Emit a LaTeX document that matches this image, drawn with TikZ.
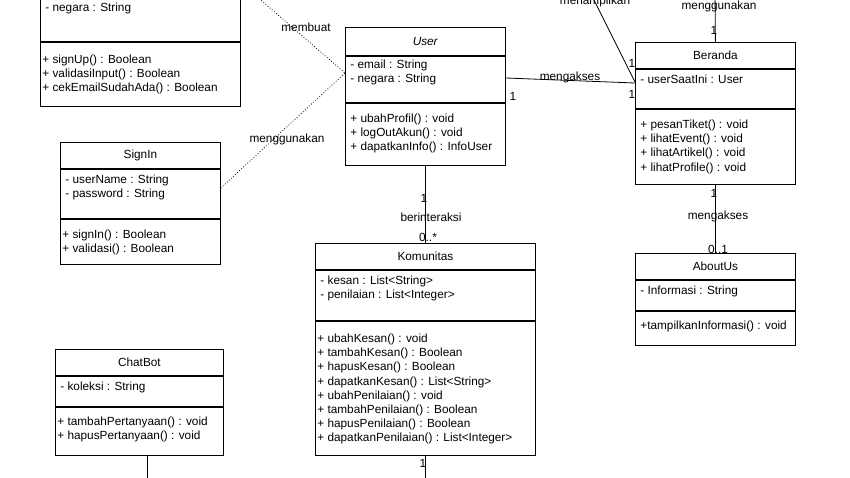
\documentclass[tikz,border=0pt]{standalone}
\usepackage{fontspec}
\setmainfont{Liberation Sans}
\usetikzlibrary{positioning}
\tikzset{
  comp/.style={draw, rectangle, inner sep=0pt, anchor=north west},
  sub/.style={draw, rectangle, inner sep=0pt, anchor=north},
  member/.style={anchor=north west, align=left, inner sep=2pt, font=\fontsize{11.8}{14.2}\selectfont},
  lbl/.style={font=\fontsize{11.8}{13}\selectfont, inner sep=1pt},
  dep/.style={dotted, thick},
}
\begin{document}
\begin{tikzpicture}[x=1pt, y=-1pt, line width=0.8pt, every node/.style={font=\fontsize{11.8}{13}\selectfont}]
        \useasboundingbox (0,0) rectangle (850,478);
        \clip (0,0) rectangle (850,478);
        % Classes
        \node[comp, minimum width=200pt, minimum height=26pt] (signup) at (40,-52) {SignUp};
        \node[sub, minimum width=200pt, minimum height=66pt] (signup attr) at (signup.south) {};
        \node[sub, minimum width=200pt, minimum height=64pt] (signup meth) at (signup attr.south) {};
        \node[member] (signup a) at ([xshift=3,yshift=-12]signup attr.north west) {- email : String\\- negara : String};
        \node[member] (signup m) at ([yshift=-11]signup meth.north west) {+ signUp() : Boolean\\+ validasiInput() : Boolean\\+ cekEmailSudahAda() : Boolean};

        \node[comp, minimum width=160pt, minimum height=28pt] (user) at (345,27) {\textit{User}};
        \node[sub, minimum width=160pt, minimum height=46pt] (user attr) at (user.south) {};
        \node[sub, minimum width=160pt, minimum height=62pt] (user meth) at (user attr.south) {};
        \node[member] (user a) at ([xshift=3,yshift=-2]user attr.north west) {- email : String\\- negara : String};
        \node[member] (user m) at ([xshift=3,yshift=-9]user meth.north west) {+ ubahProfil() : void\\+ logOutAkun() : void\\+ dapatkanInfo() : InfoUser};

        \node[comp, minimum width=160pt, minimum height=26pt] (beranda) at (635,42) {Beranda};
        \node[sub, minimum width=160pt, minimum height=39pt] (beranda attr) at (beranda.south) {};
        \node[sub, minimum width=160pt, minimum height=75pt] (beranda meth) at (beranda attr.south) {};
        \node[member] (beranda a) at ([xshift=3,yshift=-4]beranda attr.north west) {- userSaatIni : User};
        \node[member] (beranda m) at ([xshift=3,yshift=-9]beranda meth.north west) {+ pesanTiket() : void\\+ lihatEvent() : void\\+ lihatArtikel() : void\\+ lihatProfile() : void};

        \node[comp, minimum width=160pt, minimum height=26pt] (signin) at (60,142) {SignIn};
        \node[sub, minimum width=160pt, minimum height=49pt] (signin attr) at (signin.south) {};
        \node[sub, minimum width=160pt, minimum height=45pt] (signin meth) at (signin attr.south) {};
        \node[member] (signin a) at ([xshift=3,yshift=-4]signin attr.north west) {- userName : String\\- password : String};
        \node[member] (signin m) at ([yshift=-9]signin meth.north west) {+ signIn() : Boolean\\+ validasi() : Boolean};

        \node[comp, minimum width=220pt, minimum height=26pt] (komunitas) at (315,243) {Komunitas};
        \node[sub, minimum width=220pt, minimum height=50pt] (komunitas attr) at (komunitas.south) {};
        \node[sub, minimum width=220pt, minimum height=134pt] (komunitas meth) at (komunitas attr.south) {};
        \node[member] (komunitas a) at ([xshift=3,yshift=-4]komunitas attr.north west) {- kesan : List<String>\\- penilaian : List<Integer>};
        \node[member] (komunitas m) at ([yshift=-11]komunitas meth.north west) {+ ubahKesan() : void\\+ tambahKesan() : Boolean\\+ hapusKesan() : Boolean\\+ dapatkanKesan() : List<String>\\+ ubahPenilaian() : void\\+ tambahPenilaian() : Boolean\\+ hapusPenilaian() : Boolean\\+ dapatkanPenilaian() : List<Integer>};

        \node[comp, minimum width=160pt, minimum height=26pt] (aboutus) at (635,253) {AboutUs};
        \node[sub, minimum width=160pt, minimum height=30pt] (aboutus attr) at (aboutus.south) {};
        \node[sub, minimum width=160pt, minimum height=34pt] (aboutus meth) at (aboutus attr.south) {};
        \node[member] (aboutus a) at ([xshift=3,yshift=-4]aboutus attr.north west) {- Informasi : String};
        \node[member] (aboutus m) at ([xshift=3,yshift=-8]aboutus meth.north west) {+tampilkanInformasi() : void};

        \node[comp, minimum width=168pt, minimum height=26pt] (chatbot) at (55,349) {ChatBot};
        \node[sub, minimum width=168pt, minimum height=30pt] (chatbot attr) at (chatbot.south) {};
        \node[sub, minimum width=168pt, minimum height=48pt] (chatbot meth) at (chatbot attr.south) {};
        \node[member] (chatbot a) at ([xshift=3,yshift=-4]chatbot attr.north west) {- koleksi : String};
        \node[member] (chatbot m) at ([yshift=-8]chatbot meth.north west) {+ tambahPertanyaan() : void\\+ hapusPertanyaan() : void};

        % Free ends
        \coordinate (signup end) at (255,-5);
        \coordinate (user in) at (345,73);
        \coordinate (tampil end) at (590,-8);
        \coordinate (guna end) at (715,-10);
        \coordinate (kom end) at (425,490);
        \coordinate (chat end) at (147,490);

        % Paths
        \draw[dep] (signup end) -- (user in);
        \draw[dep] (signin attr.north east |- 0,188) -- (user in);
        \draw (user attr.east |- 0,78) -- (beranda attr.west |- 0,83);
        \draw (tampil end) -- (beranda attr.west |- 0,82);
        \draw (guna end) -- (beranda.north);
        \draw (beranda meth.south) -- (aboutus.north);
        \draw (user meth.south -| 425,0) -- (komunitas.north -| 425,0);
        \draw (komunitas meth.south -| 425,0) -- (kom end);
        \draw (chatbot meth.south -| 147,0) -- (chat end);

        % Labels
        \node[lbl] (l membuat) at (306,27) {membuat};
        \node[lbl] (l guna1) at (287,139) {menggunakan};
        \node[lbl] (l akses1) at (570,77) {mengakses};
        \node[lbl] (l tampil) at (595,1) {menampilkan};
        \node[lbl] (l guna2) at (719,6) {menggunakan};
        \node[lbl] (l akses2) at (718,216) {mengakses};
        \node[lbl] (l inter) at (431,217) {berinteraksi};
        \node[lbl] (m1) at (513,96) {1};
        \node[lbl] (m2) at (632,94) {1};
        \node[lbl] (m3) at (632,63) {1};
        \node[lbl] (m4) at (714,30) {1};
        \node[lbl] (m5) at (714,193) {1};
        \node[lbl] (m6) at (718,249) {0..1};
        \node[lbl] (m7) at (424,198) {1};
        \node[lbl] (m8) at (428,237) {0..*};
        \node[lbl] (m9) at (423,463) {1};
\end{tikzpicture}
\end{document}
